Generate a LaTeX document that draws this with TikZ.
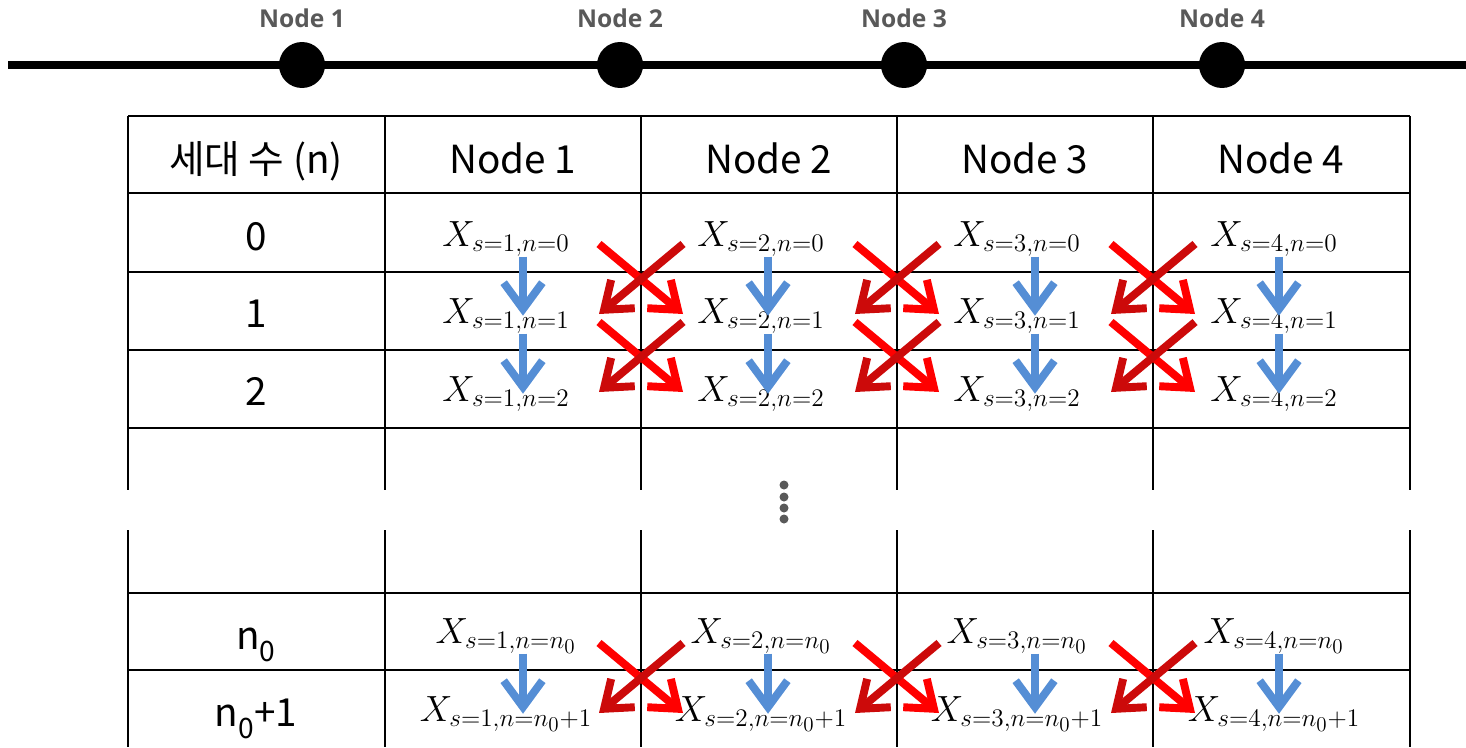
\documentclass[tikz,border=0pt]{standalone}
\usepackage{fontspec}
\usepackage{amsmath}
\usetikzlibrary{arrows.meta}
\newfontfamily\krfont{Noto Sans CJK KR}
\newfontfamily\labfont{Open Sans}
\DeclareMathSizes{21}{21}{15.5}{12}
\definecolor{arrowblue}{RGB}{85,142,213}
\definecolor{darkred}{RGB}{204,10,10}
\definecolor{labgray}{RGB}{89,89,89}

\tikzset{
  timeline/.style={line width=4pt},
  dot/.style={circle,fill=black,minimum size=0.92cm,inner sep=0pt},
  toplabel/.style={font=\labfont\bfseries\fontsize{14}{16}\selectfont,text=labgray},
  gridline/.style={line width=1.4pt},
  cell/.style={font=\krfont\fontsize{22}{26}\selectfont,inner sep=0pt,anchor=base},
  val/.style={font=\fontsize{21}{25}\selectfont,inner sep=0pt,anchor=base},
  down/.style={line width=4.5pt,draw=arrowblue,-{Straight Barb[length=15pt,width=22pt]}},
  crossR/.style={line width=4.5pt,draw=red,-{Straight Barb[length=14pt,width=21pt]}},
  crossL/.style={line width=4.5pt,draw=darkred,-{Straight Barb[length=14pt,width=21pt]}}
}

\begin{document}
\begin{tikzpicture}[x=0.02cm,y=-0.02cm]
  \useasboundingbox (0,0) rectangle (1466,747);

  % nodes on the line
  \coordinate (lineL) at (8,65);
  \coordinate (lineR) at (1466,65);
  \draw[timeline] (lineL) -- (lineR);
  \foreach \i/\x in {1/302,2/620,3/904,4/1222}{
    \node[dot] (p\i) at (\x,65) {};
    \node[toplabel] (top\i) at (\x,18) {Node \i};
  }

  % table
  \foreach \y in {116,193,272,350,428,593,670}
    \draw[gridline] (128,\y) -- (1410,\y);
  \foreach \x in {128,385,641,897,1153,1410}{
    \draw[gridline] (\x,116) -- (\x,490);
    \draw[gridline] (\x,530) -- (\x,747);
  }

  \node[cell] (h0) at (256,173) {세대 수 (n)};
  \foreach \i/\x in {1/513,2/769,3/1025,4/1281}
    \node[cell] (h\i) at (\x,173) {Node \i};
  \node[cell] (r0) at (256,250) {0};
  \node[cell] (r1) at (256,327) {1};
  \node[cell] (r2) at (256,405) {2};
  \node[cell] (rn) at (256,649) {n\raisebox{-7pt}{\fontsize{16}{16}\selectfont 0}};
  \node[cell] (rm) at (256,726) {n\raisebox{-7pt}{\fontsize{16}{16}\selectfont 0}+1};

  % values
  \foreach \c/\x in {1/506,2/761,3/1017,4/1274}{
    \node[val] (v\c0) at (\x,246) {$X_{s=\c,n=0}$};
    \node[val] (v\c1) at (\x,323) {$X_{s=\c,n=1}$};
    \node[val] (v\c2) at (\x,401) {$X_{s=\c,n=2}$};
    \node[val] (v\c n) at (\x,643) {$X_{s=\c,n=n_0}$};
    \node[val] (v\c m) at (\x,721) {$X_{s=\c,n=n_0+1}$};
  }

  % same node, next generation
  \foreach \c/\bx in {1/523,2/768,3/1035,4/1279}{
    \coordinate (b\c) at (\bx,0);
    \draw[down] (v\c0.south -| b\c) -- (v\c1.center -| b\c);
    \draw[down] (v\c1.south -| b\c) -- (v\c2.center -| b\c);
    \draw[down] (v\c n.south -| b\c) -- (v\c m.center -| b\c);
  }

  % neighbour nodes
  \foreach \x in {641,897,1153}
    \foreach \y in {279,357,678}{
      \coordinate (k) at (\x,\y);
      \draw[crossR] ([shift={(-42,-35)}]k) -- ([shift={(42,35)}]k);
      \draw[crossL] ([shift={(42,-35)}]k) -- ([shift={(-42,35)}]k);
    }

  % rows left out
  \foreach \y in {485,497,508,519}
    \fill[labgray] (784,\y) circle[radius=4.5];
\end{tikzpicture}
\end{document}
